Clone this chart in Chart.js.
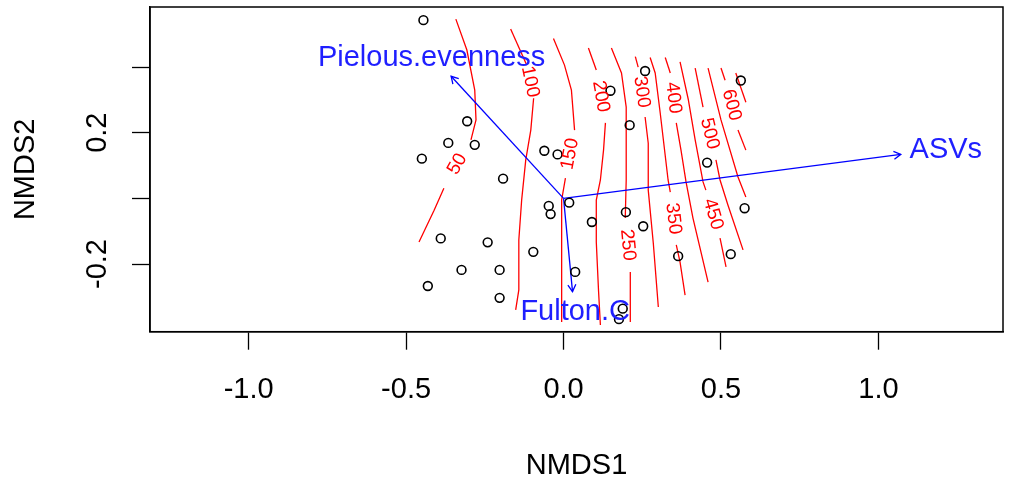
<!DOCTYPE html>
<html><head><meta charset="utf-8">
<script src="https://cdn.jsdelivr.net/npm/chart.js@4"></script>
<style>html,body{margin:0;padding:0;background:#fff;}canvas{display:block;}</style>
</head><body>
<canvas id="c" width="1009" height="484"></canvas>
<script>
// ---- site scores (NMDS1, NMDS2) ----
const siteX = [-0.445,-0.306,-0.366,-0.282,-0.450,-0.192,-0.061,-0.019,-0.047,-0.041,0.018,-0.390,-0.241,-0.096,-0.324,-0.203,-0.431,-0.203,0.037,0.090,0.198,0.253,0.259,0.149,0.210,0.456,0.563,0.575,0.531,0.364,0.188,0.176];
const siteY = [0.543,0.235,0.169,0.163,0.121,0.060,0.145,0.134,-0.023,-0.048,-0.013,-0.122,-0.134,-0.163,-0.218,-0.218,-0.267,-0.303,-0.224,-0.072,-0.042,-0.085,0.388,0.328,0.223,0.109,0.359,-0.030,-0.170,-0.176,-0.336,-0.368];

// ---- fitted vectors ----
const vectorNames = ['Pielous.evenness','ASVs','Fulton.C'];
const vectorX = [-0.357, 1.071, 0.0285];
const vectorY = [0.372, 0.134, -0.284];
const vectorLabelX = [-0.419, 1.214, 0.037];
const vectorLabelY = [0.428, 0.147, -0.346];

// ---- ordisurf contours (segments; label sits in the gap between segments) ----
const contourLevels = [50,100,150,200,250,300,350,400,450,500,550,600,650];
const contour50 = [[[-0.342,0.546],[-0.307,0.452],[-0.282,0.330],[-0.278,0.239],[-0.294,0.178]],
                   [[-0.380,0.031],[-0.411,-0.036],[-0.459,-0.133]]];
const contour100 = [[[-0.168,0.516],[-0.117,0.406]],
                    [[-0.095,0.305],[-0.104,0.208],[-0.120,0.117],[-0.133,-0.005],[-0.142,-0.127],[-0.142,-0.279],[-0.152,-0.340]]];
const contour150 = [[[-0.032,0.487],[0.003,0.406],[0.025,0.330],[0.035,0.208]],
                    [[0.006,0.062],[-0.006,-0.005],[-0.006,-0.188],[-0.006,-0.377]]];
const contour200 = [[[0.079,0.458],[0.104,0.391]],
                    [[0.133,0.230],[0.127,0.147],[0.117,0.056],[0.104,-0.005],[0.104,-0.133],[0.111,-0.279],[0.117,-0.386]]];
const contour250 = [[[0.152,0.458],[0.184,0.382],[0.199,0.278],[0.199,0.056],[0.196,-0.060]],
                    [[0.212,-0.224],[0.212,-0.377]]];
const contour300 = [[[0.228,0.432],[0.237,0.400]],
                    [[0.259,0.248],[0.269,0.168],[0.269,0.025],[0.285,-0.136],[0.301,-0.331]]];
const contour350 = [[[0.275,0.429],[0.291,0.382],[0.307,0.260],[0.332,0.056],[0.339,0.019]],
                    [[0.358,-0.142],[0.370,-0.194],[0.386,-0.295]]];
const contour400 = [[[0.323,0.429],[0.339,0.382]],
                    [[0.358,0.230],[0.373,0.147],[0.389,0.050],[0.411,-0.060],[0.459,-0.255]]];
const contour450 = [[[0.370,0.416],[0.396,0.302],[0.418,0.178],[0.443,0.050],[0.452,0.025]],
                    [[0.497,-0.121],[0.516,-0.209]]];
const contour500 = [[[0.418,0.397],[0.443,0.278]],
                    [[0.484,0.117],[0.497,0.056],[0.522,-0.020],[0.570,-0.157]]];
const contour550 = [[[0.459,0.397],[0.500,0.239],[0.554,0.065],[0.579,0.004]]];
const contour600 = [[[0.500,0.397],[0.513,0.360]],
                    [[0.554,0.208],[0.579,0.147]]];
const contour650 = [[[0.547,0.382],[0.579,0.293]]];
const contourData = [contour50,contour100,contour150,contour200,contour250,contour300,contour350,contour400,contour450,contour500,contour550,contour600,contour650];

// ---- axes ----
const xTickValues = [-1, -0.5, 0, 0.5, 1];
const xTickLabels = ['-1.0','-0.5','0.0','0.5','1.0'];
const yTickValues = [-0.2, 0, 0.2, 0.4];
const yTickLabels = ['-0.2','','0.2',''];
const xTitle = 'NMDS1', yTitle = 'NMDS2';

const FONT = '"Liberation Sans", Arial, sans-serif';
const datasets = [];
contourData.forEach((segs) => {
  segs.forEach(seg => {
    datasets.push({type:'scatter', data: seg.map(p => ({x:p[0], y:p[1]})), showLine:true,
      borderColor:'#ff0000', borderWidth:1.3, pointRadius:0, fill:false, tension:0, order:3});
  });
});
vectorNames.forEach((n,i) => {
  datasets.push({type:'scatter', data:[{x:0,y:0},{x:vectorX[i],y:vectorY[i]}], showLine:true,
    borderColor:'#0000ff', borderWidth:1.3, pointRadius:0, fill:false, order:2});
});
datasets.push({type:'scatter', data: siteX.map((x,i)=>({x, y:siteY[i]})),
  pointStyle:'circle', pointRadius:4.4, borderColor:'#000', backgroundColor:'rgba(0,0,0,0)', borderWidth:1.6, order:1});

const overlay = {
  id:'overlay',
  afterDatasetsDraw(chart){
    const {ctx, scales:{x, y}, chartArea:a} = chart;
    ctx.save();
    ctx.beginPath(); ctx.rect(a.left, a.top, a.right-a.left, a.bottom-a.top); ctx.clip();
    ctx.fillStyle = '#ff0000';
    ctx.font = '19px ' + FONT;
    ctx.textAlign = 'center'; ctx.textBaseline = 'middle';
    contourData.forEach((segs, k) => {
      if (segs.length < 2) return;
      const p = segs[0][segs[0].length-1], q = segs[1][0];
      const x1 = x.getPixelForValue(p[0]), y1 = y.getPixelForValue(p[1]);
      const x2 = x.getPixelForValue(q[0]), y2 = y.getPixelForValue(q[1]);
      let ang = Math.atan2(y2-y1, x2-x1);
      if (ang > Math.PI/2) ang -= Math.PI;
      if (ang < -Math.PI/2) ang += Math.PI;
      ctx.save();
      ctx.translate((x1+x2)/2, (y1+y2)/2);
      ctx.rotate(ang);
      ctx.fillText(String(contourLevels[k]), 0, 0);
      ctx.restore();
    });
    ctx.strokeStyle = '#0000ff'; ctx.lineWidth = 1.3;
    vectorNames.forEach((n,i) => {
      const x0 = x.getPixelForValue(0), y0 = y.getPixelForValue(0);
      const xt = x.getPixelForValue(vectorX[i]), yt = y.getPixelForValue(vectorY[i]);
      const ang = Math.atan2(yt-y0, xt-x0), L = 8, h = Math.PI/6;
      ctx.beginPath();
      ctx.moveTo(xt - L*Math.cos(ang-h), yt - L*Math.sin(ang-h));
      ctx.lineTo(xt, yt);
      ctx.lineTo(xt - L*Math.cos(ang+h), yt - L*Math.sin(ang+h));
      ctx.stroke();
    });
    ctx.restore();
    ctx.save();
    ctx.fillStyle = '#1f1fff';
    ctx.font = '29px ' + FONT;
    ctx.textAlign = 'center'; ctx.textBaseline = 'middle';
    vectorNames.forEach((n,i) => {
      ctx.fillText(n, x.getPixelForValue(vectorLabelX[i]), y.getPixelForValue(vectorLabelY[i]));
    });
    ctx.restore();
  },
  afterDraw(chart){
    const {ctx, chartArea:a} = chart;
    ctx.save();
    ctx.strokeStyle = '#000'; ctx.lineWidth = 1.5;
    ctx.strokeRect(a.left, a.top, a.right-a.left, a.bottom-a.top);
    ctx.restore();
  }
};

new Chart(document.getElementById('c'), {
  type:'scatter',
  data:{datasets},
  options:{
    responsive:false, animation:false, devicePixelRatio:1,
    layout:{padding:{top:7, right:3, left:0, bottom:0}},
    plugins:{legend:{display:false}, tooltip:{enabled:false}},
    scales:{
      x:{type:'linear', position:'bottom', min:-1.3133, max:1.3956,
        afterBuildTicks: s => { s.ticks = xTickValues.map(v => ({value:v})); },
        afterFit: s => { s.height = 152.3; s.paddingLeft = 0; s.paddingRight = 0; },
        ticks:{autoSkip:false, color:'#000', font:{family:FONT, size:29, lineHeight:1.2}, padding:22.6,
          maxRotation:0, minRotation:0,
          callback: v => xTickLabels[xTickValues.indexOf(v)]},
        grid:{drawOnChartArea:false, drawTicks:true, tickLength:18, tickColor:'#000', tickWidth:1.3, color:'#000'},
        border:{display:true, color:'#000', width:1.5},
        title:{display:true, text:xTitle, color:'#000', font:{family:FONT, size:29, lineHeight:1.2}, padding:{top:0, bottom:0.8}}
      },
      y:{type:'linear', position:'left', min:-0.4062, max:0.583,
        afterBuildTicks: s => { s.ticks = yTickValues.map(v => ({value:v})); },
        afterFit: s => { s.width = 150; s.paddingTop = 0; s.paddingBottom = 0; },
        ticks:{autoSkip:false, color:'#000', font:{family:FONT, size:29, lineHeight:1.2}, padding:9.5,
          minRotation:90, maxRotation:90, crossAlign:'center',
          callback: v => yTickLabels[yTickValues.indexOf(v)]},
        grid:{drawOnChartArea:false, drawTicks:true, tickLength:18, tickColor:'#000', tickWidth:1.3, color:'#000'},
        border:{display:true, color:'#000', width:1.5},
        title:{display:true, text:yTitle, color:'#000', font:{family:FONT, size:29, lineHeight:1.2}, padding:{top:8.4, bottom:0}}
      }
    }
  },
  plugins:[overlay]
});
</script>
</body></html>
